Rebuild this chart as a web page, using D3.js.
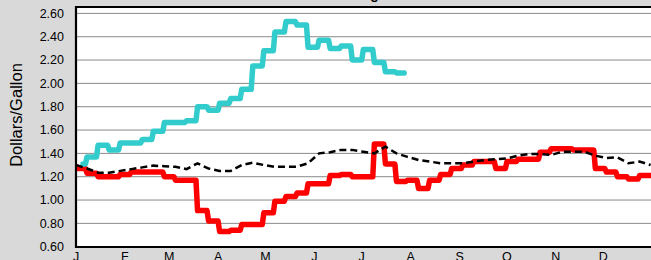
<!DOCTYPE html>
<html>
<head>
<meta charset="utf-8">
<script src="https://cdn.jsdelivr.net/npm/d3@7"></script>
<style>
  body { margin: 0; background: #d9d9d9; }
  svg { display: block; }
  text { font-family: "Liberation Sans", Arial, sans-serif; }
</style>
</head>
<body>
<svg id="chart" width="651" height="260"></svg>
<script>
// month labels, placed at the first day of each month
const months = ['J', 'F', 'M', 'A', 'M', 'J', 'J', 'A', 'S', 'O', 'N', 'D']
const monthStartDays = [0, 31, 59, 90, 120, 151, 181, 212, 243, 273, 304, 334]

const yTicks = [0.6, 0.8, 1.0, 1.2, 1.4, 1.6, 1.8, 2.0, 2.2, 2.4, 2.6]

// weekly prices (week 0 = first week of January)
const redWeekly = [
  1.27, 1.23, 1.20, 1.20, 1.22, 1.24, 1.24, 1.24, 1.20, 1.17,
  1.17, 0.91, 0.82, 0.73, 0.74, 0.79, 0.79, 0.89, 0.99, 1.03,
  1.06, 1.14, 1.14, 1.21, 1.22, 1.20, 1.20, 1.48, 1.31, 1.16,
  1.17, 1.10, 1.17, 1.22, 1.27, 1.30, 1.33, 1.33, 1.27, 1.33,
  1.35, 1.35, 1.41, 1.44, 1.44, 1.43, 1.43, 1.27, 1.24, 1.20,
  1.18, 1.21
]

const cyanWeekly = [
  1.31, 1.37, 1.47, 1.43, 1.49, 1.49, 1.52, 1.59, 1.665, 1.665,
  1.68, 1.80, 1.77, 1.83, 1.87, 1.95, 2.15, 2.28, 2.44, 2.53,
  2.50, 2.31, 2.37, 2.30, 2.32, 2.20, 2.29, 2.18, 2.10, 2.09
]
const cyanFirstWeek = 0.63 // first reading falls part-way into week 0
const cyanLastWeek = 29.7

// dashed average, read at each week boundary (0..52)
const avgWeekly = [
  1.30, 1.27, 1.235, 1.235, 1.25, 1.265, 1.28, 1.295, 1.29, 1.285,
  1.265, 1.315, 1.27, 1.25, 1.25, 1.30, 1.32, 1.30, 1.285, 1.286,
  1.286, 1.315, 1.40, 1.41, 1.43, 1.43, 1.414, 1.40, 1.457, 1.40,
  1.37, 1.343, 1.33, 1.315, 1.315, 1.315, 1.33, 1.343, 1.35, 1.357,
  1.38, 1.395, 1.395, 1.386, 1.414, 1.414, 1.414, 1.38, 1.36, 1.366,
  1.315, 1.33, 1.30
]

const svg = d3.select('#chart')
const plot = { left: 76, top: 7, bottom: 247, right: 650.6 }

const x = d3.scaleLinear().domain([0, 52]).range([plot.left, plot.right])
const y = d3.scaleLinear().domain([0.6, 2.6]).range([246.7, 13.4])

// the price changes over about one day, so each step is slightly slanted
const dayFraction = 1 / 7

function toSteps (values, firstWeek, lastWeek) {
  const pts = []
  values.forEach((v, i) => {
    const start = i === 0 ? firstWeek : i
    const end = i === values.length - 1 ? lastWeek : i + 1 - dayFraction
    pts.push([start, v], [end, v])
  })
  return pts
}

// plot background
svg.append('rect')
  .attr('x', plot.left)
  .attr('y', plot.top)
  .attr('width', 600)
  .attr('height', plot.bottom - plot.top)
  .attr('fill', '#fff')

// gridlines
svg.append('g')
  .selectAll('line')
  .data(yTicks.slice(1))
  .enter()
  .append('line')
  .attr('x1', plot.left)
  .attr('x2', 660)
  .attr('y1', (d) => y(d))
  .attr('y2', (d) => y(d))
  .attr('stroke', '#8a8a8a')
  .attr('stroke-width', 1)

svg.append('clipPath')
  .attr('id', 'plot-clip')
  .append('rect')
  .attr('x', plot.left)
  .attr('y', plot.top)
  .attr('width', 600)
  .attr('height', plot.bottom - plot.top)

const series = svg.append('g').attr('clip-path', 'url(#plot-clip)')

const line = d3.line()
  .x((d) => x(d[0]))
  .y((d) => y(d[1]))

series.append('path')
  .datum(toSteps(redWeekly, 0, redWeekly.length))
  .attr('d', line)
  .attr('fill', 'none')
  .attr('stroke', '#ff0000')
  .attr('stroke-width', 5.5)
  .attr('stroke-linejoin', 'round')
  .attr('stroke-linecap', 'round')

series.append('path')
  .datum(toSteps(cyanWeekly, cyanFirstWeek, cyanLastWeek))
  .attr('d', line)
  .attr('fill', 'none')
  .attr('stroke', '#33cccc')
  .attr('stroke-width', 5.5)
  .attr('stroke-linejoin', 'round')
  .attr('stroke-linecap', 'round')

series.append('path')
  .datum(avgWeekly.map((v, i) => [i, v]))
  .attr('d', line)
  .attr('fill', 'none')
  .attr('stroke', '#000')
  .attr('stroke-width', 2.5)
  .attr('stroke-dasharray', '7,4')

// frame (right edge sits outside the picture)
svg.append('path')
  .attr('d', `M660,${plot.top}H${plot.left}V${plot.bottom}H660`)
  .attr('fill', 'none')
  .attr('stroke', '#000')
  .attr('stroke-width', 2.2)

// y tick labels
svg.append('g')
  .selectAll('text')
  .data(yTicks)
  .enter()
  .append('text')
  .attr('x', 64)
  .attr('y', (d) => y(d))
  .attr('dy', '0.35em')
  .attr('text-anchor', 'end')
  .attr('font-size', 12.5)
  .text((d) => d.toFixed(2))

// x month labels (cut off by the bottom of the picture, as in the original)
svg.append('g')
  .selectAll('text')
  .data(months)
  .enter()
  .append('text')
  .attr('x', (d, i) => x(monthStartDays[i] / 7))
  .attr('y', 261)
  .attr('text-anchor', 'middle')
  .attr('font-size', 12.5)
  .text((d) => d)

svg.append('text')
  .attr('transform', 'translate(22,115) rotate(-90)')
  .attr('text-anchor', 'middle')
  .attr('font-size', 16.5)
  .text('Dollars/Gallon')

// title, almost entirely above the picture
svg.append('text')
  .attr('x', 389)
  .attr('y', -1)
  .attr('text-anchor', 'middle')
  .attr('font-size', 14)
  .attr('font-weight', 'bold')
  .text('Retail Regular Gasoline')
</script>
</body>
</html>
